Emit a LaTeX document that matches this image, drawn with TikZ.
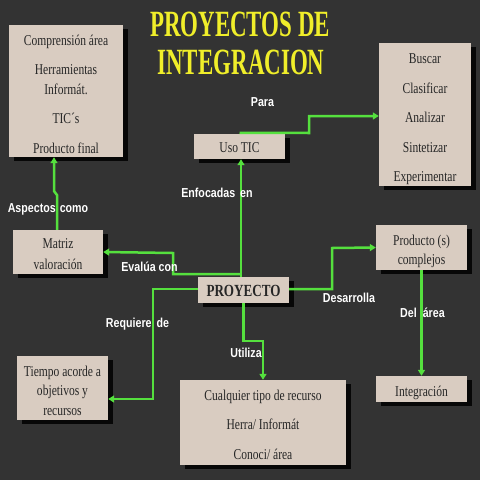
\documentclass[tikz,border=0pt]{standalone}
\usepackage{fontspec}
\usetikzlibrary{arrows.meta,shadows}
\newfontfamily\boxfont{Liberation Serif}[FakeStretch=0.77]
\newfontfamily\titlefont{Liberation Serif}[FakeStretch=0.62]
\newfontfamily\labfont{Liberation Sans}[FakeStretch=0.82]
\definecolor{bgc}{HTML}{333333}
\definecolor{boxc}{HTML}{D9CCC1}
\definecolor{grn}{HTML}{55E03E}
\definecolor{ttl}{HTML}{F0EE2A}
\tikzset{
 box/.style={draw=none, fill=boxc, inner sep=0pt,
   drop shadow={shadow xshift=5pt,shadow yshift=-4pt,fill=black,opacity=0.85}},
 boxtext/.style={inner sep=0pt, align=center, text=black!85,
   font=\boxfont\fontsize{15}{19.5}\selectfont},
 arr/.style={draw=grn, line width=2.5pt, -{Triangle[length=6pt,width=7pt]}},
 lab/.style={text=white, font=\labfont\bfseries\fontsize{13}{15}\selectfont, inner sep=0pt,
   text height=10pt, text depth=3pt},
 ttlstyle/.style={text=ttl, font=\titlefont\bfseries\fontsize{37}{40}\selectfont, inner sep=0pt},
}
\begin{document}
\begin{tikzpicture}[x=1pt,y=1pt]
\fill[bgc] (0,0) rectangle (480,-480);
\useasboundingbox (0,0) rectangle (480,-480);

% title
\node[ttlstyle] (t1) at (240,-24.5) {PROYECTOS DE};
\node[ttlstyle] (t2) at (241,-62) {INTEGRACION};

% boxes
\node[box, minimum width=114pt, minimum height=132pt] (b1) at (66,-91) {};
\node[boxtext] (b1t) at ([yshift=-3pt]b1.center)
  {Comprensión área\\[10pt] Herramientas\\ Informát.\\[10pt] TIC´s\\[10pt] Producto final};
\node[box, minimum width=92pt, minimum height=143pt] (b2) at (425,-114.5) {};
\node[boxtext] (b2t) at ([yshift=-5pt]b2.center)
  {Buscar\\[10pt] Clasificar\\[10pt] Analizar\\[10pt] Sintetizar\\[10pt] Experimentar};
\node[box, minimum width=91pt, minimum height=25pt] (usotic) at (239.5,-146.5) {};
\node[boxtext] (usotict) at ([yshift=-1pt]usotic.center) {Uso TIC};
\node[box, minimum width=90pt, minimum height=44pt] (matriz) at (58,-252) {};
\node[boxtext] (matrizt) at ([yshift=-2pt]matriz.center) {Matriz\\[2pt] valoración};
\node[box, minimum width=91pt, minimum height=26pt] (proyecto) at (243.5,-290) {};
\node[boxtext, font=\boxfont\bfseries\fontsize{17}{19}\selectfont] (proyectot)
  at ([yshift=-1pt]proyecto.center) {PROYECTO};
\node[box, minimum width=91pt, minimum height=45pt] (producto) at (421.5,-247.5) {};
\node[boxtext] (productot) at ([yshift=-4pt]producto.center) {Producto (s)\\ complejos};
\node[box, minimum width=91pt, minimum height=64pt] (tiempo) at (62.5,-388) {};
\node[boxtext] (tiempot) at ([yshift=-2.5pt]tiempo.center) {Tiempo acorde a\\ objetivos y\\ recursos};
\node[box, minimum width=166pt, minimum height=85pt] (cualquier) at (263,-422.5) {};
\node[boxtext] (cualquiert) at ([yshift=-2pt]cualquier.center)
  {Cualquier tipo de recurso\\[10pt] Herra/ Informát\\[10pt] Conoci/ área};
\node[box, minimum width=91pt, minimum height=26pt] (integracion) at (421.5,-389) {};
\node[boxtext] (integraciont) at ([yshift=-3.5pt]integracion.center) {Integración};

% connectors
\coordinate (ev) at (241,-274);
\draw[arr] ([xshift=-2.5pt]proyecto.north) -- ([xshift=1.5pt]usotic.south);
\draw[arr] ([yshift=1pt]usotic.north) -- (309,-133) -- (309,-116) -- ([yshift=-1.5pt]b2.west);
\draw[arr] (ev) -- (173,-274) -- (173,-253) -- (matriz.east);
\draw[arr] ([yshift=1pt]proyecto.west) -- (153,-289) -- (153,-399) -- ([yshift=-11pt]tiempo.east);
\draw[arr] (proyecto.south) -- (243.5,-341) -- (263,-341) -- (cualquier.north);
\draw[arr] ([yshift=1pt]proyecto.east) -- (332,-289) -- (332,-248) -- (producto.west);
\draw[arr] (producto.south) -- (integracion.north);
\draw[arr] ([xshift=-1pt]matriz.north) -- (57,-195) -- (54,-191) -- ([xshift=-12pt]b1.south);

% labels
\node[lab] (lpara) at (262.5,-103) {Para};
\node[lab] (lenf) at (217,-194) {Enfocadas\hspace{5pt}en};
\node[lab] (lasp) at (48,-209) {Aspectos\hspace{4pt}como};
\node[lab] (leva) at (149.5,-268) {Evalúa con};
\node[lab] (lreq) at (137.5,-324) {Requiere\hspace{5pt}de};
\node[lab] (luti) at (246,-354) {Utiliza};
\node[lab] (ldes) at (349,-299) {Desarrolla};
\node[lab] (ldel) at (422.5,-314) {Del\hspace{6pt}área};
\end{tikzpicture}
\end{document}
